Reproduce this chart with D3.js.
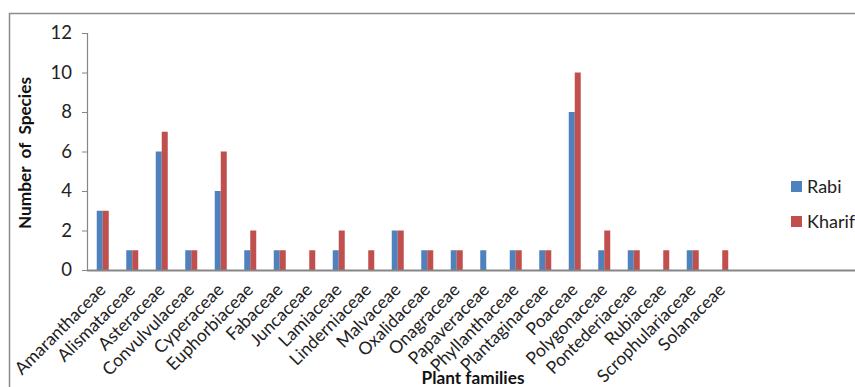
<!DOCTYPE html>
<html><head><meta charset="utf-8">
<script src="https://cdn.jsdelivr.net/npm/d3@7"></script>
<style>
body{margin:0;background:#fff;}
svg{display:block;font-family:Lato,"Open Sans",sans-serif;}
</style></head>
<body><svg id="c" width="855" height="387"></svg>
<script>
const families = ["Amaranthaceae","Alismataceae","Asteraceae","Convulvulaceae","Cyperaceae","Euphorbiaceae","Fabaceae","Juncaceae","Lamiaceae","Linderniaceae","Malvaceae","Oxalidaceae","Onagraceae","Papaveraceae","Phyllanthaceae","Plantaginaceae","Poaceae","Polygonaceae","Pontederiaceae","Rubiaceae","Scrophulariaceae","Solanaceae"];
const rabi   = [3,1,6,1,4,1,1,0,1,0,2,1,1,1,1,1,8,1,1,0,1,0];
const kharif = [3,1,7,1,6,2,1,1,2,1,2,1,1,0,1,1,10,2,1,1,1,1];
const seriesNames = ["Rabi","Kharif"];
const seriesColors = ["#4F81BD","#C0504D"];
const yTicks = [0,2,4,6,8,10,12];

const svg = d3.select("#c");
// fit a text's font size so its length matches a target
function fit(sel, target){
  const n = sel.node(); const fs = parseFloat(sel.attr("font-size"));
  const len = n.getComputedTextLength();
  if(len>0) sel.attr("font-size", (fs*target/len).toFixed(2));
  return parseFloat(sel.attr("font-size"));
}

// outer chart border (cropped on right/bottom)
svg.append("path").attr("d","M9.5,387 V13.5 H855").attr("fill","none").attr("stroke","#8c8c8c").attr("stroke-width",1.5);

const x = d3.scaleBand().domain(families).range([88,737]);
const y = d3.scaleLinear().domain([0,12]).range([270,33]);
const xs = d3.scaleBand().domain(seriesNames).range([0,12]);
const bw = 6;

// bars
const data = families.map((f,i)=>({f, vals:[rabi[i],kharif[i]]}));
const g = svg.append("g");
data.forEach(d=>{
  d.vals.forEach((v,k)=>{
    if(v<=0) return;
    g.append("rect")
      .attr("x", x(d.f)+x.bandwidth()/2-6+xs(seriesNames[k]))
      .attr("y", y(v))
      .attr("width", bw)
      .attr("height", y(0)-y(v))
      .attr("fill", seriesColors[k]);
  });
});

// y axis
const yAxis = svg.append("g").attr("transform","translate(87,0)")
  .call(d3.axisLeft(y).tickValues(yTicks).tickSize(5).tickPadding(10).tickFormat(d3.format("d")));
yAxis.select(".domain").attr("stroke","#868686").attr("stroke-width",1.2);
yAxis.selectAll(".tick line").attr("stroke","#868686");
yAxis.selectAll("text").attr("font-size",18.5).attr("fill","#222").attr("font-family","Lato,sans-serif");

// x axis line
svg.append("line").attr("x1",87).attr("x2",855).attr("y1",270.5).attr("y2",270.5)
  .attr("stroke","#868686").attr("stroke-width",2);

// x labels
const xl = svg.append("g").selectAll("text").data(families).join("text")
  .attr("transform", d=>`translate(${x(d)+x.bandwidth()/2+4},${291}) rotate(-45)`)
  .attr("text-anchor","end")
  .attr("font-size",18).attr("fill","#222").text(d=>d);
const fsX = fit(d3.select(xl.nodes()[0]), 120);
xl.attr("font-size", fsX);

// axis titles
const yt = svg.append("text").attr("transform","translate(30.5,153) rotate(-90)")
  .attr("text-anchor","middle").attr("font-size",18).attr("font-weight","bold")
  .attr("fill","#111").style("white-space","pre").text("Number  of  Species");
fit(yt, 152);
const xt = svg.append("text").attr("x",473).attr("y",384).attr("text-anchor","middle")
  .attr("font-size",18).attr("font-weight","bold").attr("fill","#111").text("Plant families");
fit(xt, 103);

// legend
const lg = svg.append("g");
seriesNames.forEach((n,i)=>{
  lg.append("rect").attr("x",791).attr("y",181+i*35).attr("width",11).attr("height",11).attr("fill",seriesColors[i]);
  lg.append("text").attr("x",807).attr("y",193+i*35).attr("font-size",18).attr("fill","#222").text(n);
});
</script></body></html>
